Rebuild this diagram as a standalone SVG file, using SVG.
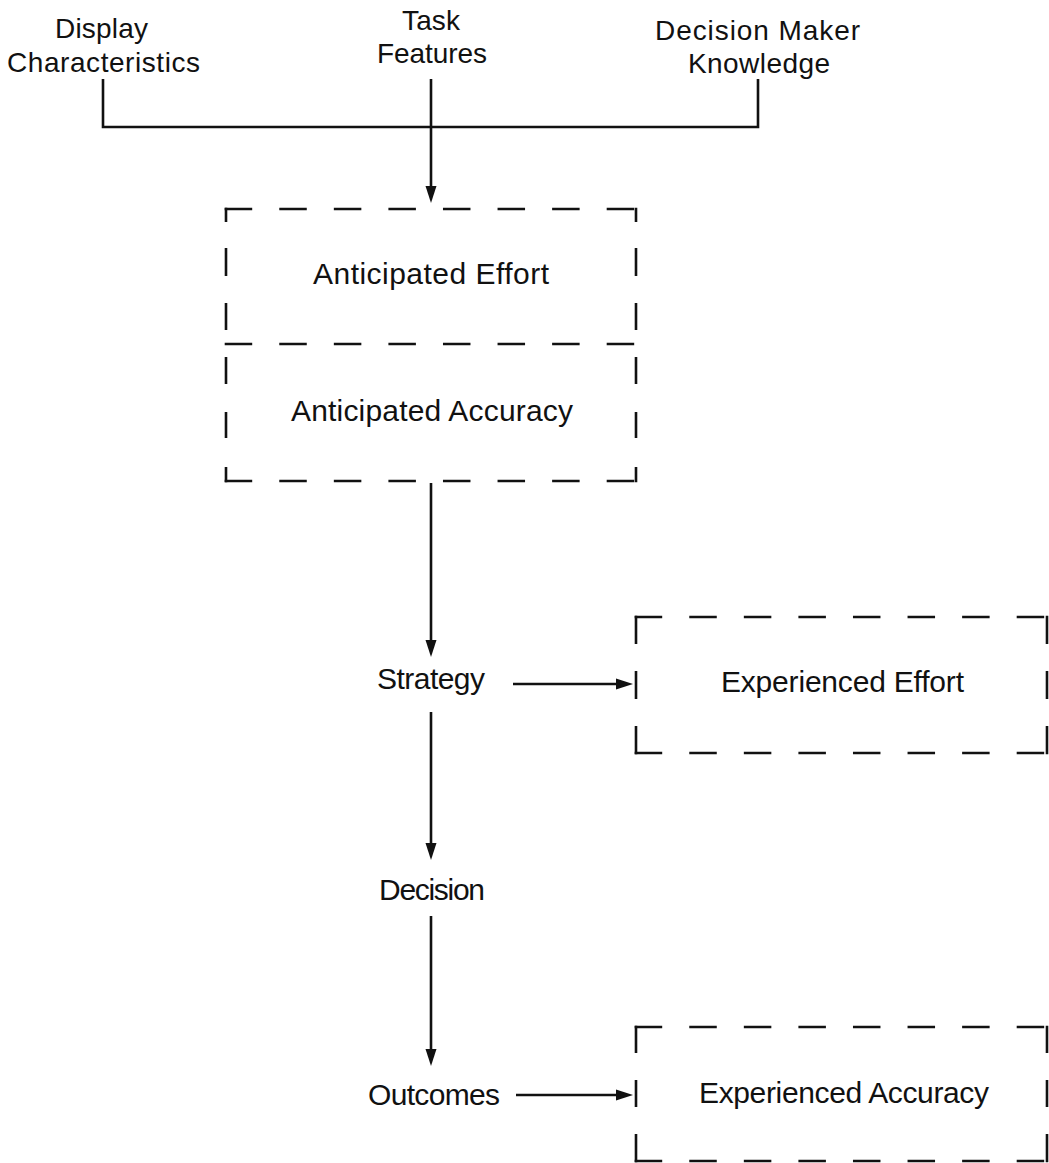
<svg xmlns="http://www.w3.org/2000/svg" width="1049" height="1163" viewBox="0 0 1049 1163">
  <defs>
    <style>
      text { font-family: "Liberation Sans", Arial, sans-serif; font-size: 30px; fill: #111; }
      .top { font-size: 28px; }
      .conn { fill: none; stroke: #111; stroke-width: 2.6; }
      .dashh { fill: none; stroke: #111; stroke-width: 2.6; stroke-dasharray: 27.5 27.07; stroke-linecap: butt; }
      .dashv { fill: none; stroke: #111; stroke-width: 2.6; stroke-linecap: butt; }
    </style>
    <marker id="arrow" markerUnits="userSpaceOnUse" markerWidth="17" markerHeight="12" viewBox="0 0 17 12" refX="11" refY="6" orient="auto">
      <path d="M0,0.5 L17,6 L0,11.5 z" fill="#111"/>
    </marker>
  </defs>
  <rect width="1049" height="1163" fill="#fff"/>

  <g id="display-characteristics">
    <text class="top" x="55" y="38" textLength="93">Display</text>
    <text class="top" x="7" y="72" textLength="193">Characteristics</text>
  </g>
  <g id="task-features">
    <text class="top" x="402" y="30" textLength="58">Task</text>
    <text class="top" x="377" y="63" textLength="110">Features</text>
  </g>
  <g id="decision-maker-knowledge">
    <text class="top" x="655" y="40" textLength="205">Decision Maker</text>
    <text class="top" x="688" y="73" textLength="142">Knowledge</text>
  </g>

  <g id="anticipated-box">
    <line class="dashh" x1="224.7" y1="209" x2="637.3" y2="209"/>
    <line class="dashh" x1="224.7" y1="344" x2="637.3" y2="344"/>
    <line class="dashh" x1="224.7" y1="481" x2="637.3" y2="481"/>
    <path class="dashv" d="M226 207.7 V222 M226 248 V276 M226 303 V330 M226 357 V384 M226 412 V438 M226 467 V482.3"/>
    <path class="dashv" d="M636 207.7 V222 M636 248 V276 M636 303 V330 M636 357 V384 M636 412 V438 M636 467 V482.3"/>
    <text x="313" y="284" textLength="236">Anticipated Effort</text>
    <text x="291" y="421" textLength="282">Anticipated Accuracy</text>
  </g>

  <g id="strategy">
    <text x="377" y="689" textLength="108">Strategy</text>
  </g>
  <g id="experienced-effort">
    <line class="dashh" x1="634.7" y1="617" x2="1048.3" y2="617"/>
    <line class="dashh" x1="634.7" y1="753" x2="1048.3" y2="753"/>
    <path class="dashv" d="M636 615.7 V644 M636 671 V699 M636 726 V754.3"/>
    <path class="dashv" d="M1047 615.7 V644 M1047 671 V699 M1047 726 V754.3"/>
    <text x="721" y="692" textLength="243">Experienced Effort</text>
  </g>

  <g id="decision">
    <text x="379" y="900" textLength="106">Decision</text>
  </g>
  <g id="outcomes">
    <text x="368" y="1105" textLength="132">Outcomes</text>
  </g>
  <g id="experienced-accuracy">
    <line class="dashh" x1="634.7" y1="1027" x2="1048.3" y2="1027"/>
    <line class="dashh" x1="634.7" y1="1161" x2="1048.3" y2="1161"/>
    <path class="dashv" d="M636 1025.7 V1053 M636 1080 V1107 M636 1134 V1162.3"/>
    <path class="dashv" d="M1047 1025.7 V1053 M1047 1080 V1107 M1047 1134 V1162.3"/>
    <text x="699" y="1103" textLength="290">Experienced Accuracy</text>
  </g>

  <g id="connectors">
    <path class="conn" d="M103 79 V127 H758 V79"/>
    <line class="conn" x1="431" y1="79" x2="431" y2="197" marker-end="url(#arrow)"/>
    <line class="conn" x1="431" y1="483" x2="431" y2="651" marker-end="url(#arrow)"/>
    <line class="conn" x1="431" y1="712" x2="431" y2="854" marker-end="url(#arrow)"/>
    <line class="conn" x1="431" y1="916" x2="431" y2="1060" marker-end="url(#arrow)"/>
    <line class="conn" x1="513" y1="684" x2="627" y2="684" marker-end="url(#arrow)"/>
    <line class="conn" x1="516" y1="1095" x2="627" y2="1095" marker-end="url(#arrow)"/>
  </g>
</svg>
